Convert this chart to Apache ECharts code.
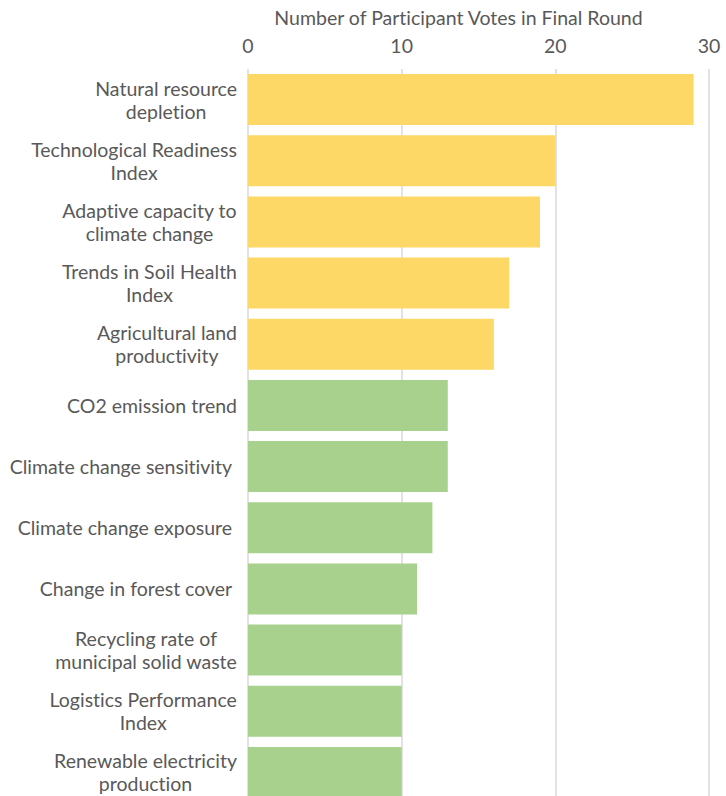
<!DOCTYPE html>
<html>
<head>
<meta charset="utf-8">
<script src="https://cdn.jsdelivr.net/npm/echarts@6/dist/echarts.min.js"></script>
<style>
html,body{margin:0;padding:0;background:#fff}
#c{width:726px;height:796px}
#c, #c svg, #c text{font-variant-ligatures:none; font-feature-settings:"liga" 0, "clig" 0;}
</style>
</head>
<body>
<div id="c"></div>
<script>
const categories = [
  'Natural resource\ndepletion',
  'Technological Readiness\nIndex',
  'Adaptive capacity to\nclimate change',
  'Trends in Soil Health\nIndex',
  'Agricultural land\nproductivity',
  'CO2 emission trend',
  'Climate change sensitivity ',
  'Climate change exposure ',
  'Change in forest cover ',
  'Recycling rate of\nmunicipal solid waste',
  'Logistics Performance\nIndex',
  'Renewable electricity\nproduction'
];
const votes = [29, 20, 19, 17, 16, 13, 13, 12, 11, 10, 10, 10];
const groupColors = ['#FDD866','#FDD866','#FDD866','#FDD866','#FDD866','#A9D18E','#A9D18E','#A9D18E','#A9D18E','#A9D18E','#A9D18E','#A9D18E'];
const xTicks = { min: 0, max: 30, interval: 10 };
const axisTitle = 'Number of Participant Votes in Final Round';

const FS = 19.5;
const chart = echarts.init(document.getElementById('c'), null, {renderer: 'svg'});
chart.setOption({
  animation: false,
  textStyle: { fontFamily: 'Lato' },
  grid: { left: 248, right: 17, top: 69, height: 734, containLabel: false, outerBoundsMode: 'none' },
  xAxis: {
    type: 'value', position: 'top',
    min: xTicks.min, max: xTicks.max, interval: xTicks.interval,
    name: axisTitle, nameLocation: 'middle', nameGap: 42,
    nameTextStyle: { color: '#595959', fontSize: FS, fontFamily: 'Lato', padding: [0, 40, 0, 0] },
    axisLabel: { color: '#595959', fontSize: FS, fontFamily: 'Lato', margin: 14 },
    axisLine: { show: false }, axisTick: { show: false },
    splitLine: { show: true, lineStyle: { color: '#D9D9D9', width: 1.5 } }
  },
  yAxis: {
    type: 'category', inverse: true, data: categories,
    axisLabel: {
      color: '#595959', fontSize: FS, fontFamily: 'Lato', lineHeight: 23, margin: 11, align: 'right',
      formatter: v => v.split('\n').map(s => '{c|' + s + '}').join('\n'),
      rich: { c: { align: 'center', color: '#595959', fontSize: FS, fontFamily: 'Lato', lineHeight: 23 } }
    },
    axisLine: { show: false }, axisTick: { show: false }
  },
  series: [{
    type: 'bar', barWidth: 51,
    data: votes.map((v, i) => ({ value: v, itemStyle: { color: groupColors[i] } })),
    silent: true
  }]
});
</script>
</body>
</html>
